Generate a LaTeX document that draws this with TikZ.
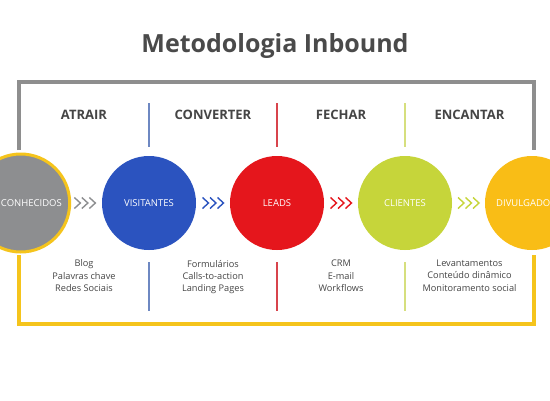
\documentclass[tikz,border=0pt]{standalone}
\usepackage{fontspec}
\setmainfont{Open Sans}
\usetikzlibrary{calc}
\definecolor{ink}{HTML}{454545}
\definecolor{titleink}{HTML}{4A4A4A}
\definecolor{frameg}{HTML}{8E8E8E}
\definecolor{framey}{HTML}{F5C41C}
\definecolor{sgray}{HTML}{8D8E90}
\definecolor{sblue}{HTML}{2B53BF}
\definecolor{sred}{HTML}{E5161C}
\definecolor{sgreen}{HTML}{C6D53A}
\definecolor{sorange}{HTML}{F9BD16}
\definecolor{lblue}{HTML}{6E88C2}
\definecolor{lred}{HTML}{D8444C}
\definecolor{lgreen}{HTML}{D6DF7E}
\tikzset{
  % solid stage disc, label in white caps
  stage/.style   = {circle, fill=#1, minimum size=94pt, inner sep=0pt,
                    font=\fontsize{9.5}{11}\selectfont, text=white},
  stxt/.style    = {inner sep=0pt, font=\fontsize{9.5}{11}\selectfont, text=white},
  phase/.style   = {inner sep=0pt, anchor=base, text=ink,
                    font=\fontsize{13}{15}\selectfont\bfseries},
  tools/.style   = {inner sep=0pt, anchor=north, align=center, text=ink,
                    font=\fontsize{9.2}{12.4}\selectfont},
  bracket/.style = {line width=4pt, draw=#1},
  divider/.style = {line width=1.4pt, draw=#1},
  chev/.style    = {line width=1.4pt, draw=#1},
}
% three chevrons half way between two stages
\newcommand\chevs[3]{%
  \foreach \k in {0,1,2}
    \draw[chev=#3] ($(#1)!0.5!(#2)+(\k*7.5-10.5,-5.5)$) -- ++(6,5.5) -- ++(-6,5.5);
}

\begin{document}
\begin{tikzpicture}[x=1pt,y=-1pt]
\useasboundingbox (0,0) rectangle (550,400);
\clip (0,0) rectangle (550,400);
\fill[white] (0,0) rectangle (550,400);
\node[inner sep=0pt, anchor=base, text=titleink,
      font=\fontsize{25}{30}\selectfont\bfseries] (title) at (275,52.3) {Metodologia Inbound};
% frames
\draw[bracket=frameg] (18.7,150) -- (18.7,82) -- (534,82) -- (534,150);
\draw[bracket=framey] (18.7,255) -- (18.7,323.5) -- (534,323.5) -- (534,255);
% phases
\node[phase] (atrair) at (84,119.5) {ATRAIR};
\node[phase] (converter) at (213,119.5) {CONVERTER};
\node[phase] (fechar) at (341,119.5) {FECHAR};
\node[phase] (encantar) at (469.5,119.5) {ENCANTAR};
\draw[divider=lblue] (149,103) -- (149,147);
\draw[divider=lred] (277,103) -- (277,147);
\draw[divider=lgreen] (405,103) -- (405,147);
% stages
\node[stage=sgray, minimum size=98pt, draw=framey, line width=3pt] (desc) at (20.7,203) {};
\node[stxt, anchor=east] (desctxt) at (62,203) {CONHECIDOS};
\node[stage=sblue] (vis) at (149,203) {VISITANTES};
\node[stage=sred] (leads) at (277,203) {LEADS};
\node[stage=sgreen] (cli) at (405,203) {CLIENTES};
\node[stage=sorange] (divul) at (532,203) {};
\node[stxt, anchor=west] (divultxt) at (496,203) {DIVULGADO};
\chevs{desc}{vis}{sgray}
\chevs{vis}{leads}{sblue}
\chevs{leads}{cli}{sred}
\chevs{cli}{divul}{sgreen}
% tools
\node[tools] (t1) at (84,259.8) {Blog\\Palavras chave\\Redes Sociais};
\node[tools] (t2) at (213,259.8) {Formulários\\Calls-to-action\\Landing Pages};
\node[tools] (t3) at (341,259.8) {CRM\\E-mail\\Workflows};
\node[tools] (t4) at (469.5,259.8) {Levantamentos\\Conteúdo dinâmico\\Monitoramento social};
\draw[divider=lblue] (149,262) -- (149,311);
\draw[divider=lred] (277,262) -- (277,311);
\draw[divider=lgreen] (405,262) -- (405,311);
\end{tikzpicture}
\end{document}
